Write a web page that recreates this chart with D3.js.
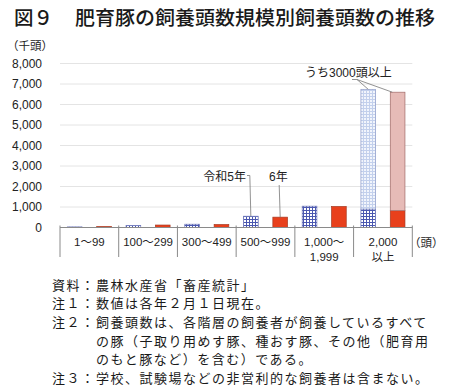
<!DOCTYPE html>
<html><head><meta charset="utf-8">
<script src="https://cdn.jsdelivr.net/npm/d3@7"></script>
<style>
html,body{margin:0;padding:0;background:#fff;}
svg{display:block;}
</style></head>
<body>
<svg id="chart" width="450" height="391"></svg>
<script>
// ---- data ----
const categories = ["1～99", "100～299", "300～499", "500～999", "1,000～\n1,999", "2,000\n以上"];
const seriesNames = ["令和5年", "6年"];
// lower (or whole) bar values, thousand head
const r5Values = [30, 100, 160, 550, 1040, 900];
const r6Values = [50, 120, 145, 505, 1025, 820];
// portion of 3000 head and over stacked above (only the 2,000+ class)
const r5Over3000 = [0, 0, 0, 0, 0, 5840];
const r6Over3000 = [0, 0, 0, 0, 0, 5780];
const yTicks = [0, 1000, 2000, 3000, 4000, 5000, 6000, 7000, 8000];
const title = "図９　肥育豚の飼養頭数規模別飼養頭数の推移";
const notes = [
  ["資料：", "農林水産省「畜産統計」"],
  ["注１：", "数値は各年２月１日現在。"],
  ["注２：", "飼養頭数は、各階層の飼養者が飼養しているすべて"],
  ["", "の豚（子取り用めす豚、種おす豚、その他（肥育用"],
  ["", "のもと豚など）を含む）である。"],
  ["注３：", "学校、試験場などの非営利的な飼養者は含まない。"]
];

// ---- layout ----
const svg = d3.select("#chart");
const JP = "'Noto Sans CJK JP', sans-serif";
const NUM = "'Liberation Sans', Arial, 'Noto Sans CJK JP', sans-serif";
const plot = {left: 60, right: 412.3, top: 63.5, bottom: 227.5};

const x = d3.scaleBand().domain(categories).range([plot.left, plot.right]).padding(0);
const xs = d3.scaleBand().domain(seriesNames).range([0, x.bandwidth()]).paddingInner(0.5).paddingOuter(0.25);
const y = d3.scaleLinear().domain([0, 8000]).range([plot.bottom, plot.top]);

// patterns
const defs = svg.append("defs");
function gridPattern(id, bg, color) {
  const p = defs.append("pattern").attr("id", id).attr("patternUnits", "userSpaceOnUse")
    .attr("width", 3).attr("height", 3);
  p.append("rect").attr("width", 3).attr("height", 3).attr("fill", bg);
  p.append("path").attr("d", "M0,0.5H3M0.5,0V3").attr("stroke", color).attr("stroke-width", 1).attr("fill", "none");
}
gridPattern("gBlue", "#ffffff", "#4b58b0");
gridPattern("gLight", "#f2f5fc", "#c3d0ec");

// title
const tParts = title.split("　");
svg.append("text").attr("x", 14).attr("y", 16).attr("dominant-baseline", "central")
  .attr("font-family", JP).attr("font-size", 19.5).attr("font-weight", 500).attr("fill", "#1a1a1a")
  .text(tParts[0]);
svg.append("text").attr("x", 75).attr("y", 16).attr("dominant-baseline", "central")
  .attr("font-family", JP).attr("font-size", 19.5).attr("font-weight", 500).attr("fill", "#1a1a1a")
  .attr("textLength", 360).attr("lengthAdjust", "spacingAndGlyphs")
  .text(tParts[1]);

// unit
svg.append("text").attr("x", 7).attr("y", 45).attr("dominant-baseline", "central")
  .attr("font-family", JP).attr("font-size", 11.5).attr("fill", "#222").text("（千頭）");

// gridlines
svg.append("g").selectAll("line").data(yTicks.filter(d => d > 0)).join("line")
  .attr("x1", plot.left).attr("x2", plot.right)
  .attr("y1", d => y(d)).attr("y2", d => y(d))
  .attr("stroke", "#e4e4e4").attr("stroke-width", 1);

// y axis labels
const yAxis = d3.axisLeft(y).tickValues(yTicks).tickFormat(d3.format(",")).tickSize(0).tickPadding(0);
const ya = svg.append("g").attr("transform", "translate(42,0)").call(yAxis);
ya.select(".domain").remove();
ya.selectAll("text").attr("font-family", NUM).attr("font-size", 12).attr("fill", "#222");

// bars
const series = [
  {name: seriesNames[0], base: r5Values, top: r5Over3000, fill: "url(#gBlue)", stroke: "#6b74b8", topFill: "url(#gLight)", topStroke: "#8d9ac8"},
  {name: seriesNames[1], base: r6Values, top: r6Over3000, fill: "#e8401c", stroke: "#a63a22", topFill: "#e6bbb7", topStroke: "#a06a68"}
];
series.forEach(s => {
  const g = svg.append("g");
  g.selectAll("rect.base").data(categories).join("rect")
    .attr("x", (c) => x(c) + xs(s.name)).attr("width", xs.bandwidth())
    .attr("y", (c, i) => y(s.base[i])).attr("height", (c, i) => y(0) - y(s.base[i]))
    .attr("fill", s.fill).attr("stroke", s.stroke).attr("stroke-width", 0.7);
  g.selectAll("rect.top").data(categories.filter((c, i) => s.top[i] > 0)).join("rect")
    .attr("x", (c) => x(c) + xs(s.name)).attr("width", xs.bandwidth())
    .attr("y", (c) => { const i = categories.indexOf(c); return y(s.base[i] + s.top[i]); })
    .attr("height", (c) => { const i = categories.indexOf(c); return y(s.base[i]) - y(s.base[i] + s.top[i]); })
    .attr("fill", s.topFill).attr("stroke", s.topStroke).attr("stroke-width", 0.7);
});

// x axis line and separators
svg.append("line").attr("x1", plot.left).attr("x2", plot.right).attr("y1", plot.bottom).attr("y2", plot.bottom)
  .attr("stroke", "#8a8a8a").attr("stroke-width", 1);
const edges = categories.map(c => x(c)).concat([plot.right]);
svg.append("g").selectAll("line").data(edges).join("line")
  .attr("x1", d => d).attr("x2", d => d).attr("y1", plot.bottom - 2).attr("y2", 257)
  .attr("stroke", "#8a8a8a").attr("stroke-width", 1);

// category labels
const cl = svg.append("g").selectAll("text").data(categories).join("text")
  .attr("x", c => x(c) + x.bandwidth() / 2).attr("text-anchor", "middle")
  .attr("font-family", NUM).attr("font-size", 11.5).attr("fill", "#222");
cl.each(function(c) {
  c.split("\n").forEach((line, k) => {
    d3.select(this).append("tspan").attr("x", x(c) + x.bandwidth() / 2)
      .attr("y", 241.5 + k * 15).attr("dominant-baseline", "central").text(line);
  });
});
svg.append("text").attr("x", 409).attr("y", 241.5).attr("dominant-baseline", "central")
  .attr("font-family", JP).attr("font-size", 11.5).attr("fill", "#222").text("（頭）");

// annotations
const lead = svg.append("g").attr("stroke", "#777").attr("stroke-width", 0.8).attr("fill", "none");
const c4 = categories[3], c6 = categories[5];
const bx5 = x(c4) + xs(seriesNames[0]) + xs.bandwidth() / 2;
const bx6 = x(c4) + xs(seriesNames[1]) + xs.bandwidth() / 2;
svg.append("text").attr("x", 246).attr("y", 177).attr("text-anchor", "end").attr("dominant-baseline", "central")
  .attr("font-family", NUM).attr("font-size", 12).attr("fill", "#222").text(seriesNames[0]);
lead.append("path").attr("d", `M247,175.5H${bx5 - 1}L${bx5},${y(r5Values[3])}`);
svg.append("text").attr("x", 269).attr("y", 177).attr("dominant-baseline", "central")
  .attr("font-family", NUM).attr("font-size", 12).attr("fill", "#222").text(seriesNames[1]);
lead.append("path").attr("d", `M${bx6 - 1},185L${bx6},${y(r6Values[3])}`);

svg.append("text").attr("x", 305).attr("y", 72.5).attr("dominant-baseline", "central")
  .attr("font-family", NUM).attr("font-size", 12).attr("fill", "#222").text("うち3000頭以上");
const tx5 = x(c6) + xs(seriesNames[0]) + xs.bandwidth() / 2;
const tx6 = x(c6) + xs(seriesNames[1]) + 2;
lead.append("path").attr("d", `M352,79.5H357L${tx5},${y(r5Values[5] + r5Over3000[5])}M357,79.5L${tx6},${y(r6Values[5] + r6Over3000[5])}`);

// notes
const noteY = [284, 302.7, 321.3, 340, 358.7, 377.3];
const ng = svg.append("g").attr("font-family", JP).attr("font-size", 13).attr("letter-spacing", 1.5).attr("fill", "#1a1a1a");
notes.forEach((n, i) => {
  if (n[0]) ng.append("text").attr("x", 52).attr("y", noteY[i]).attr("dominant-baseline", "central").text(n[0]);
  ng.append("text").attr("x", 96).attr("y", noteY[i]).attr("dominant-baseline", "central").text(n[1]);
});
</script>
</body></html>
